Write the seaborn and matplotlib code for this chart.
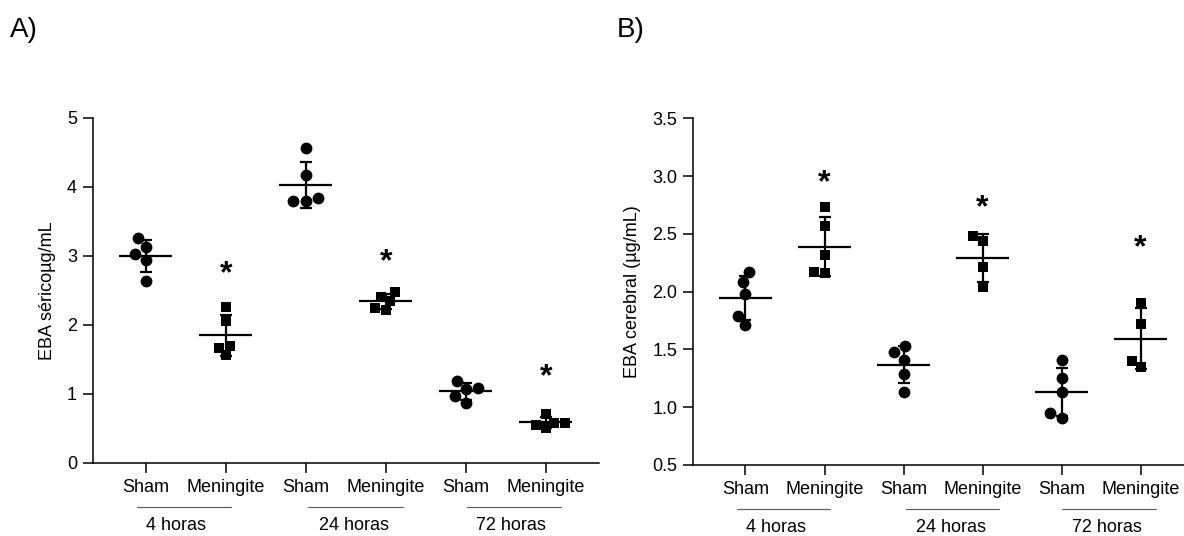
import numpy as np
import pandas as pd
import matplotlib
matplotlib.use("Agg")
import matplotlib.pyplot as plt
import matplotlib.transforms as mtransforms
import seaborn as sns

# Categories
times = ["4 horas", "24 horas", "72 horas"]
groups = ["Sham", "Meningite"]

# Serum EBA (panel A), one list per time point
serum_sham = [
    [3.13, 3.26, 3.02, 2.94, 2.63],
    [4.56, 4.17, 3.84, 3.80, 3.79],
    [1.07, 1.19, 1.09, 0.96, 0.87],
]
serum_men = [
    [2.26, 2.05, 1.69, 1.67, 1.56],
    [2.40, 2.48, 2.25, 2.22, 2.35],
    [0.58, 0.71, 0.58, 0.55, 0.50],
]
serum_stars = [2.82, 2.99, 1.32]

# Cerebral EBA (panel B)
brain_sham = [
    [2.17, 2.08, 1.98, 1.79, 1.71],
    [1.53, 1.48, 1.41, 1.29, 1.13],
    [1.41, 1.25, 1.13, 0.95, 0.91],
]
brain_men = [
    [2.73, 2.57, 2.32, 2.17, 2.16],
    [2.48, 2.44, 2.21, 2.04],
    [1.90, 1.72, 1.40, 1.35],
]
brain_stars = [2.99, 2.77, 2.42]

# Positions of the hand-drawn group labels under the axis (in category units)
group_line_centers = [0.48, 2.62, 4.60]
group_text_centers = [0.38, 2.60, 4.57]


def build_long(sham, men):
    rows = []
    for i, t in enumerate(times):
        for v in sham[i]:
            rows.append({"key": f"Sham {t}", "group": "Sham", "value": v})
        for v in men[i]:
            rows.append({"key": f"Meningite {t}", "group": "Meningite", "value": v})
    return pd.DataFrame(rows)


def draw_panel(ax, sham, men, stars, ylim, yticks, ytick_fmt, ylabel, xlim):
    df = build_long(sham, men)
    order = [f"{g} {t}" for t in times for g in groups]

    sns.swarmplot(data=df[df["group"] == "Sham"], x="key", y="value", order=order,
                  color="black", marker="o", size=8.5, ax=ax)
    sns.swarmplot(data=df[df["group"] == "Meningite"], x="key", y="value", order=order,
                  color="black", marker="s", size=7.2, ax=ax)

    # mean +/- SD
    stats = df.groupby("key")["value"].agg(["mean", "std"]).reindex(order)
    pos = np.arange(len(order))
    ax.errorbar(pos, stats["mean"], yerr=stats["std"], fmt="none", ecolor="black",
                elinewidth=1.6, capsize=4.5, capthick=1.6, zorder=4)
    ax.hlines(stats["mean"], pos - 0.33, pos + 0.33, colors="black", lw=1.6, zorder=4)

    # significance stars above Meningite groups
    for i, s in enumerate(stars):
        ax.annotate("*", xy=(2 * i + 1, s), xytext=(0, -4), textcoords="offset points",
                    ha="center", va="center", fontsize=23, fontweight="bold",
                    color="black")

    ax.set_ylim(*ylim)
    ax.set_yticks(yticks)
    ax.set_yticklabels([ytick_fmt.format(v) for v in yticks])
    ax.set_xlim(*xlim)
    ax.set_xticks(pos)
    ax.set_xticklabels([g for t in times for g in groups])
    ax.set_xlabel("")
    ax.set_ylabel(ylabel, fontsize=13, labelpad=8, color="black")
    ax.tick_params(axis="both", length=7.5, width=1.1, labelsize=13, pad=4,
                   color="black", labelcolor="black")
    for side in ["left", "bottom"]:
        ax.spines[side].set_linewidth(1.1)
        ax.spines[side].set_color("black")
    sns.despine(ax=ax)

    fig = ax.figure
    base = mtransforms.blended_transform_factory(ax.transData, ax.transAxes)
    line_tr = base + mtransforms.ScaledTranslation(0, -0.44, fig.dpi_scale_trans)
    text_tr = base + mtransforms.ScaledTranslation(0, -0.63, fig.dpi_scale_trans)
    for c in group_line_centers:
        ax.plot([c - 0.59, c + 0.59], [0, 0], transform=line_tr, color="#555555",
                lw=0.8, clip_on=False)
    for c, t in zip(group_text_centers, times):
        ax.text(c, 0, t, transform=text_tr, ha="center", va="center", fontsize=13,
                color="black")


sns.set_style("ticks")
plt.rcParams["font.family"] = ["Liberation Sans", "DejaVu Sans"]
plt.rcParams["text.color"] = "black"
plt.rcParams["axes.labelcolor"] = "black"

fig = plt.figure(figsize=(11.84, 5.36), dpi=100)
ax_a = fig.add_axes([0.0785, 0.1368, 0.4277, 0.6432])
ax_b = fig.add_axes([0.5856, 0.1325, 0.4144, 0.6468])

draw_panel(ax_a, serum_sham, serum_men, serum_stars, (0, 5), [0, 1, 2, 3, 4, 5],
           "{:.0f}", "EBA séricoµg/mL", (-0.66, 5.67))
draw_panel(ax_b, brain_sham, brain_men, brain_stars, (0.5, 3.5),
           [0.5, 1.0, 1.5, 2.0, 2.5, 3.0, 3.5], "{:.1f}", "EBA cerebral (µg/mL)",
           (-0.66, 5.55))

fig.text(0.0085, 1 - 30 / 536, "A)", fontsize=20, va="center", ha="left", color="black")
fig.text(0.521, 1 - 30 / 536, "B)", fontsize=20, va="center", ha="left", color="black")

fig.savefig("out.png", dpi=100)
